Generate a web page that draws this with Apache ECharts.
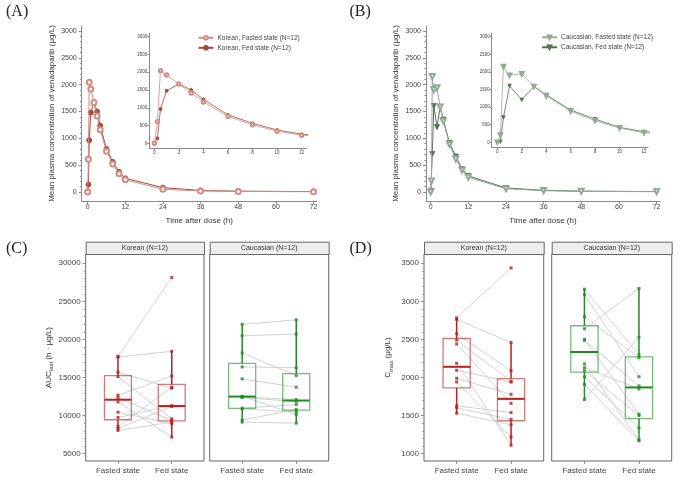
<!DOCTYPE html>
<html><head><meta charset="utf-8">
<script src="https://cdn.jsdelivr.net/npm/echarts@6/dist/echarts.min.js"></script>
<style>html,body{margin:0;padding:0;background:#fff}#c{width:685px;height:483px}</style>
</head><body><div id="c"></div><script>
// ---------- data ----------
const timeH = [0, 0.25, 0.5, 1, 2, 3, 4, 6, 8, 10, 12, 24, 36, 48, 72];
const korFastedConc = [0, 610, 2045, 1921, 1668, 1415, 1162, 760, 520, 340, 228, 50, 20, 10, 5];
const korFedConc    = [0, 140, 965, 1480, 1668, 1500, 1237, 800, 562, 375, 255, 81, 28, 15, 8];
const cauFastedConc = [0, 207, 2150, 1905, 1943, 1585, 1320, 887, 613, 405, 273, 60, 25, 12, 6];
const cauFedConc    = [0, 20, 707, 1604, 1208, 1585, 1349, 915, 660, 425, 300, 75, 30, 15, 8];

const xTicksMain  = [0, 12, 24, 36, 48, 60, 72];
const xTicksInset = [0, 2, 4, 6, 8, 10, 12];
const yTicksConc  = [0, 500, 1000, 1500, 2000, 2500, 3000];
const aucTicks    = [5000, 10000, 15000, 20000, 25000, 30000];
const cmaxTicks   = [1000, 1500, 2000, 2500, 3000, 3500];
const states      = ['Fasted state', 'Fed state'];
const groups      = ['Korean (N=12)', 'Caucasian (N=12)'];

// paired subject values (same index = same subject)
const korAucFasted = [17785, 17700, 15690, 15120, 12680, 12370, 11805, 10450, 9750, 8570, 8310, 8050];
const korAucFed    = [28128, 18440, 13600, 9580, 15210, 9360, 7180, 8930, 11320, 13730, 11190, 9150];
const cauAucFasted = [21975, 20490, 18220, 16390, 14820, 12550, 12450, 12370, 10980, 10850, 9410, 9150];
const cauAucFed    = [22580, 20705, 15250, 16300, 13730, 10140, 12110, 11850, 11450, 10500, 10800, 9010];
const korCmaxFasted = [2784, 2763, 2575, 2492, 2440, 2187, 2095, 1990, 1942, 1628, 1602, 1532];
const korCmaxFed    = [3440, 2460, 2090, 1950, 1660, 1110, 1940, 1780, 1220, 1540, 1450, 1380];
const cauCmaxFasted = [3160, 3090, 2800, 2640, 2500, 2490, 2180, 2130, 2090, 2010, 1910, 1710];
const cauCmaxFed    = [2300, 2010, 2260, 3170, 1520, 1890, 1180, 1850, 1500, 1340, 1170, 2530];

// ---------- styling ----------
const FONT = "'Liberation Sans', Arial, sans-serif";
const AX = '#8a8a8a', TXT = '#444';
const korFastCol = '#cf8d84', korFedCol = '#a4493b';
const cauFastCol = '#93a994', cauFedCol = '#4f7253';
const red = '#b22222', redFade = 'rgba(178,34,34,0.6)';
const green = '#228b22', greenFade = 'rgba(34,139,34,0.6)';

function range(a, b, s, excl) { const r = []; for (let v = a; v <= b + 1e-9; v += s) { if (!excl || excl.indexOf(v) < 0) r.push(v); } return r; }
const yMinorConc = range(0, 3000, 100, yTicksConc);
const aucMinor = range(5000, 30000, 1000, aucTicks);
const cmaxMinor = range(1000, 3500, 100, cmaxTicks);

const pts = (xs, ys) => xs.map((x, i) => [x, ys[i]]);

function quant(s, p) { const h = (s.length - 1) * p, lo = Math.floor(h); const hi = Math.min(lo + 1, s.length - 1); return s[lo] + (h - lo) * (s[hi] - s[lo]); }
function boxStats(x, vals) {
  const s = vals.slice().sort((a, b) => a - b);
  const q1 = quant(s, 0.25), md = quant(s, 0.5), q3 = quant(s, 0.75), iqr = q3 - q1;
  const lo = Math.min.apply(null, s.filter(v => v >= q1 - 1.5 * iqr));
  const hi = Math.max.apply(null, s.filter(v => v <= q3 + 1.5 * iqr));
  return [x, lo, q1, md, q3, hi];
}

// ---------- grids ----------
const grids = [
  { left: 81.7, top: 26, width: 235, height: 175 },      // 0 A main
  { left: 149.3, top: 33.3, width: 157.4, height: 115 },  // 1 A inset
  { left: 426, top: 26, width: 234, height: 175 },       // 2 B main
  { left: 491.7, top: 33.3, width: 156.3, height: 114 },  // 3 B inset
  { left: 85.7, top: 254, width: 118.3, height: 207, show: true, borderColor: '#666', borderWidth: 1 }, // 4 C kor
  { left: 209.7, top: 254, width: 119, height: 207, show: true, borderColor: '#666', borderWidth: 1 },  // 5 C cau
  { left: 424, top: 254, width: 119.7, height: 207, show: true, borderColor: '#666', borderWidth: 1 },  // 6 D kor
  { left: 551.7, top: 254, width: 120, height: 207, show: true, borderColor: '#666', borderWidth: 1 }   // 7 D cau
];

function valAxis(gi, min, max, ticks, o) {
  o = o || {};
  return Object.assign({
    type: 'value', gridIndex: gi, min: min, max: max, splitLine: { show: false },
    axisLine: { show: o.line !== false, onZero: false, lineStyle: { color: AX, width: 1 } },
    axisTick: { show: !!ticks, customValues: ticks || [], length: o.tickLen || 3, lineStyle: { color: AX } },
    axisLabel: { show: !!ticks && o.labels !== false, customValues: ticks || [], fontSize: o.fs || 7, color: TXT, fontFamily: FONT, margin: o.margin || 4, formatter: o.fmt || (v => String(v)) }
  }, o.extra || {});
}

const xName = { name: 'Time after dose (h)', nameLocation: 'middle', nameGap: 16, nameTextStyle: { fontSize: 8, color: '#333', fontFamily: FONT } };
const xAxes = [
  valAxis(0, -1.9, 73, xTicksMain, { margin: 3, extra: xName }),
  valAxis(1, -0.41, 12.41, xTicksInset, { fs: 4.5, tickLen: 2, margin: 2 }),
  valAxis(2, -1.5, 73.1, xTicksMain, { margin: 3, extra: xName }),
  valAxis(3, -0.46, 12.33, xTicksInset, { fs: 4.5, tickLen: 2, margin: 2 })
];
for (let g = 4; g < 8; g++) {
  xAxes.push(valAxis(g, 0.4, 2.6, [1, 2], { line: false, fs: 8, margin: 6, fmt: v => states[Math.round(v) - 1] }));
}

const concName = 'Mean plasma concentration of venadaparib (μg/L)';
const yName = { name: concName, nameLocation: 'middle', nameGap: 26, nameTextStyle: { fontSize: 8, color: '#333', fontFamily: FONT } };
const subRich = { a: { fontSize: 8, lineHeight: 12, fontFamily: FONT, color: '#333' }, b: { fontSize: 6, lineHeight: 6, verticalAlign: 'bottom', fontFamily: FONT, color: '#333' } };
const yAxes = [
  valAxis(0, -168, 3093, yTicksConc, { margin: 5, extra: yName }),
  valAxis(1, -141, 3096, yTicksConc, { fs: 4.5, tickLen: 2, margin: 2 }),
  valAxis(2, -168, 3093, yTicksConc, { margin: 5, extra: yName }),
  valAxis(3, -141, 3096, yTicksConc, { fs: 4.5, tickLen: 2, margin: 2 }),
  valAxis(4, 4040, 31220, aucTicks, { line: false, fs: 8, margin: 5, extra: {
    name: '{a|AUC}{b|last}{a| (h · μg/L)}', nameLocation: 'middle', nameGap: 30,
    nameTextStyle: { color: '#333', fontFamily: FONT, rich: subRich } } }),
  valAxis(5, 4040, 31220, null, { line: false }),
  valAxis(6, 904, 3622, cmaxTicks, { line: false, fs: 8, margin: 5, extra: {
    name: '{a|C}{b|max}{a| (μg/L)}', nameLocation: 'middle', nameGap: 30,
    nameTextStyle: { color: '#333', fontFamily: FONT, rich: subRich } } }),
  valAxis(7, 904, 3622, null, { line: false }),
  // minor tick axes (same side as the main ones)
  valAxis(0, -168, 3093, yMinorConc, { line: false, labels: false, tickLen: 1.6, extra: { position: 'left', offset: 0 } }),
  valAxis(2, -168, 3093, yMinorConc, { line: false, labels: false, tickLen: 1.6, extra: { position: 'left', offset: 0 } }),
  valAxis(4, 4040, 31220, aucMinor, { line: false, labels: false, tickLen: 1.6, extra: { position: 'left', offset: 0 } }),
  valAxis(6, 904, 3622, cmaxMinor, { line: false, labels: false, tickLen: 1.6, extra: { position: 'left', offset: 0 } })
];

// ---------- series ----------
const KF = 'Korean, Fasted state (N=12)', KD = 'Korean, Fed state (N=12)';
const CF = 'Caucasian, Fasted state (N=12)', CD = 'Caucasian, Fed state (N=12)';
function lineS(name, xi, data, col, sym, size, lw, rot, z) {
  return { type: 'line', name: name, xAxisIndex: xi, yAxisIndex: xi, data: data, clip: true,
    symbol: sym, symbolSize: size, symbolRotate: rot || 0, showSymbol: true, z: z || 2,
    lineStyle: { color: col, width: lw }, itemStyle: { color: col, borderColor: col, borderWidth: 0.9 }, emphasis: { disabled: true } };
}
const series = [
  lineS(KF, 0, pts(timeH, korFastedConc), korFastCol, 'emptyCircle', 5, 1, 0, 3),
  lineS(KD, 0, pts(timeH, korFedConc), korFedCol, 'circle', 5, 1, 0, 2),
  lineS(KF, 1, pts(timeH, korFastedConc), korFastCol, 'emptyCircle', 3.4, 0.8, 0, 3),
  lineS(KD, 1, pts(timeH, korFedConc), korFedCol, 'circle', 3, 0.8, 0, 2),
  lineS(CF, 2, pts(timeH, cauFastedConc), cauFastCol, 'emptyTriangle', 5, 1, 180, 3),
  lineS(CD, 2, pts(timeH, cauFedConc), cauFedCol, 'triangle', 5, 1, 180, 2),
  lineS(CF, 3, pts(timeH, cauFastedConc), cauFastCol, 'emptyTriangle', 3.6, 0.8, 180, 3),
  lineS(CD, 3, pts(timeH, cauFedConc), cauFedCol, 'triangle', 3.4, 0.8, 180, 2)
];

function pairRender(params, api) {
  const p1 = api.coord([1, api.value(0)]), p2 = api.coord([2, api.value(1)]);
  return { type: 'line', shape: { x1: p1[0], y1: p1[1], x2: p2[0], y2: p2[1] }, style: { stroke: '#c6c6c6', lineWidth: 0.8 } };
}
function boxRender(col, fade) {
  return function (params, api) {
    const x = api.value(0), hw = 0.25;
    const lo = api.coord([x, api.value(1)]), q1 = api.coord([x, api.value(2)]), md = api.coord([x, api.value(3)]);
    const q3 = api.coord([x, api.value(4)]), hi = api.coord([x, api.value(5)]);
    const l = api.coord([x - hw, api.value(3)])[0], r = api.coord([x + hw, api.value(3)])[0];
    return { type: 'group', children: [
      { type: 'line', shape: { x1: lo[0], y1: lo[1], x2: q1[0], y2: q1[1] }, style: { stroke: col, lineWidth: 1.5 } },
      { type: 'line', shape: { x1: q3[0], y1: q3[1], x2: hi[0], y2: hi[1] }, style: { stroke: col, lineWidth: 1.5 } },
      { type: 'rect', shape: { x: l, y: q3[1], width: r - l, height: q1[1] - q3[1] }, style: { fill: 'rgba(255,255,255,0)', stroke: fade, lineWidth: 1.3 } },
      { type: 'line', shape: { x1: l, y1: md[1], x2: r, y2: md[1] }, style: { stroke: col, lineWidth: 2 } }
    ] };
  };
}
function panel(gi, fasted, fed, col, fade) {
  series.push({ type: 'custom', xAxisIndex: gi, yAxisIndex: gi, renderItem: pairRender, z: 1, silent: true,
    data: fasted.map((v, i) => [v, fed[i]]), encode: { x: [], y: [0, 1] } });
  series.push({ type: 'custom', xAxisIndex: gi, yAxisIndex: gi, renderItem: boxRender(col, fade), z: 2, silent: true,
    data: [boxStats(1, fasted), boxStats(2, fed)], encode: { x: 0, y: [1, 2, 3, 4, 5] } });
  series.push({ type: 'scatter', xAxisIndex: gi, yAxisIndex: gi, z: 3, silent: true, symbol: 'rect', symbolSize: 3,
    itemStyle: { color: col }, data: pts(fasted.map(() => 1), fasted).concat(pts(fed.map(() => 2), fed)) });
}
panel(4, korAucFasted, korAucFed, red, redFade);
panel(5, cauAucFasted, cauAucFed, green, greenFade);
panel(6, korCmaxFasted, korCmaxFed, red, redFade);
panel(7, cauCmaxFasted, cauCmaxFed, green, greenFade);

// ---------- graphics (strips + panel letters) ----------
const graphic = [];
[[85.7, 118.3, 0], [209.7, 119, 1], [424, 119.7, 0], [551.7, 120, 1]].forEach(s => {
  graphic.push({ type: 'rect', left: s[0], top: 241.7, shape: { width: s[1], height: 12.3 }, style: { fill: '#eeeeee', stroke: '#666', lineWidth: 1 } });
  graphic.push({ type: 'text', x: s[0] + s[1] / 2, y: 248, style: { text: groups[s[2]], fill: '#333', font: '7px ' + FONT, align: 'center', verticalAlign: 'middle' } });
});
[['(A)', 6, 4], ['(B)', 349.5, 4], ['(C)', 6, 241], ['(D)', 349.5, 241]].forEach(t => {
  graphic.push({ type: 'text', left: t[1], top: t[2], style: { text: t[0], fill: '#222', font: '16px "Liberation Serif", "Times New Roman", serif' } });
});

const legendBase = { orient: 'vertical', itemWidth: 15, itemHeight: 4.5, itemGap: 3, padding: 0, selectedMode: false,
  textStyle: { fontSize: 6.5, color: TXT, fontFamily: FONT, padding: [0, 0, 0, -1] } };
const option = {
  animation: false, backgroundColor: '#fff',
  grid: grids, xAxis: xAxes, yAxis: yAxes, series: series, graphic: graphic,
  legend: [
    Object.assign({}, legendBase, { left: 197.5, top: 34.3, data: [KF, KD] }),
    Object.assign({}, legendBase, { left: 541, top: 33.8, data: [CF, CD] })
  ]
};
const chart = echarts.init(document.getElementById('c'), null, { renderer: 'canvas' });
chart.setOption(option);
</script></body></html>
